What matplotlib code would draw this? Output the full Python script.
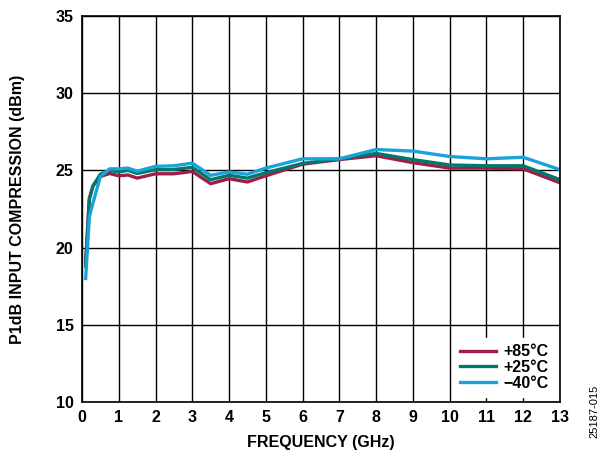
import matplotlib
matplotlib.use("Agg")
from matplotlib import pyplot as plt

# frequency points (GHz)
freq = [0.1, 0.2, 0.3, 0.5, 0.75, 1.0, 1.25, 1.5, 2.0, 2.5, 3.0, 3.5, 4.0, 4.5, 5.0,
        6.0, 7.0, 8.0, 9.0, 10.0, 11.0, 12.0, 13.0]

# P1dB input compression (dBm)
p_85 = [19.1, 23.2, 24.0, 24.6, 24.8, 24.65, 24.7, 24.5, 24.78, 24.78, 24.93, 24.14, 24.46, 24.25, 24.65,
        25.4, 25.7, 25.95, 25.5, 25.15, 25.15, 25.1, 24.2]
p_25 = [18.8, 23.1, 24.0, 24.75, 25.0, 24.9, 25.0, 24.8, 25.05, 25.06, 25.2, 24.4, 24.68, 24.5, 24.85,
        25.45, 25.75, 26.1, 25.7, 25.35, 25.3, 25.3, 24.4]
p_m40 = [18.0, 22.0, 22.9, 24.6, 25.1, 25.1, 25.15, 24.95, 25.26, 25.3, 25.47, 24.68, 24.9, 24.75, 25.15,
         25.75, 25.75, 26.35, 26.25, 25.9, 25.75, 25.85, 25.05]

labels = ["+85°C", "+25°C", "\u221240°C"]
colors = ["#A01D48", "#00786C", "#1AA3DA"]

plt.rcParams['font.family'] = ['Liberation Sans', 'DejaVu Sans']

fig = plt.figure(figsize=(6.05, 4.51), dpi=100)
ax = fig.add_axes([0.1355, 0.1086, 0.79, 0.856])

for y, lab, c in zip([p_85, p_25, p_m40], labels, colors):
    ax.plot(freq, y, color=c, lw=2.4, label=lab, solid_joinstyle='round')

ax.set_xlim(0, 13)
ax.set_ylim(10, 35)
ax.set_xticks(range(0, 14))
ax.set_yticks(range(10, 36, 5))
ax.grid(True, color='black', lw=1.0)
ax.set_axisbelow(True)
ax.tick_params(length=0, pad=6, labelsize=11.5)
for t in ax.get_xticklabels() + ax.get_yticklabels():
    t.set_fontweight('bold')
for s in ax.spines.values():
    s.set_linewidth(1.2)

ax.set_xlabel("FREQUENCY (GHz)", fontsize=11.5, fontweight='bold', labelpad=7)
ax.set_ylabel("P1dB INPUT COMPRESSION (dBm)", fontsize=11.5, fontweight='bold', labelpad=22)

leg = ax.legend(loc='lower right', frameon=True, fancybox=False, framealpha=1,
                edgecolor='white', handlelength=2.2, handletextpad=0.5,
                labelspacing=0.05, borderaxespad=0.3,
                prop={'weight': 'bold', 'size': 11.5})

fig.text(0.983, 0.087, "25187-015", rotation=90, fontsize=8, ha='center', va='center')

plt.savefig("out.png", dpi=100)
plt.close()
